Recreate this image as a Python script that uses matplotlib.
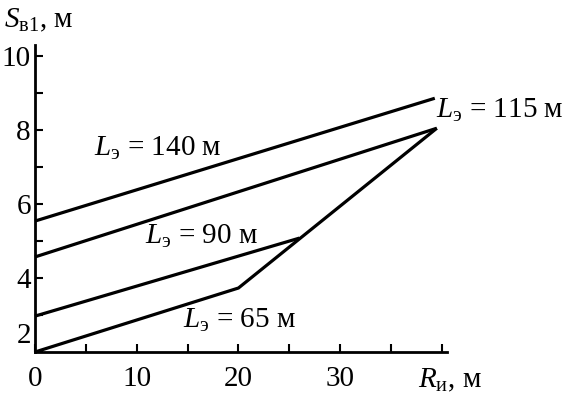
import matplotlib
matplotlib.use("Agg")
import matplotlib.pyplot as plt
from matplotlib.ticker import MultipleLocator, FixedLocator
import matplotlib.transforms as mtransforms

plt.rcParams['font.family'] = ['Liberation Serif', 'DejaVu Serif']
plt.rcParams['mathtext.fontset'] = 'custom'
plt.rcParams['mathtext.rm'] = 'Liberation Serif'
plt.rcParams['mathtext.it'] = 'Liberation Serif:italic'

# Data
R_140 = [0, 39.3]
S_140 = [5.54, 8.86]
R_115 = [0, 39.5]
S_115 = [4.57, 8.05]
R_90 = [0, 26.0]
S_90 = [2.97, 5.08]
R_65 = [0, 20.0, 39.5]
S_65 = [2.0, 3.73, 8.05]

x_major = [0, 10, 20, 30]
x_minor = [5, 15, 25, 35, 40]
y_labels = [2, 4, 6, 8, 10]

fig = plt.figure(figsize=(5.66, 3.98), dpi=100)
ax = fig.add_axes([35/566, 1-352/398, (447-35)/566, (352-45)/398])
ax.set_xlim(0, 40.5)
ax.set_ylim(2, 10.3)

lw = 2.3
for R, S in [(R_140, S_140), (R_115, S_115), (R_90, S_90), (R_65, S_65)]:
    ax.plot(R, S, color='black', lw=lw, solid_capstyle='butt',
            solid_joinstyle='miter', clip_on=False)

for s in ['top', 'right']:
    ax.spines[s].set_visible(False)
for s in ['left', 'bottom']:
    ax.spines[s].set_linewidth(2)

fs = 21
ax.xaxis.set_major_locator(FixedLocator(x_major))
ax.xaxis.set_minor_locator(FixedLocator(x_minor))
ax.yaxis.set_major_locator(FixedLocator(y_labels))
ax.yaxis.set_minor_locator(MultipleLocator(1))
ax.tick_params(which='both', direction='in', length=6, width=1.5)
ax.tick_params(axis='x', labelsize=fs, pad=10)
ax.tick_params(axis='y', labelsize=fs, pad=3)

# shift the "2" label upward as in reference
fig.canvas.draw()
for lab in ax.get_yticklabels():
    if lab.get_text() == '2':
        lab.set_transform(lab.get_transform() +
                          mtransforms.ScaledTranslation(0, 14/72, fig.dpi_scale_trans))


def lbl(px, py, s, ha='left'):
    fig.text(px/566, 1-py/398, s, fontsize=fs, ha=ha, va='center')


lbl(94, 148, r'$L_{\mathrm{э}}$ = 140 м')
lbl(145, 236, r'$L_{\mathrm{э}}$ = 90 м')
lbl(183, 320, r'$L_{\mathrm{э}}$ = 65 м')
lbl(436, 110, r'$L_{\mathrm{э}}$ = 115 м')
lbl(4, 20, r'$S_{\mathrm{в1}}$, м')
lbl(418, 380, r'$R_{\mathrm{и}}$, м')

fig.savefig('out.png', dpi=100)
